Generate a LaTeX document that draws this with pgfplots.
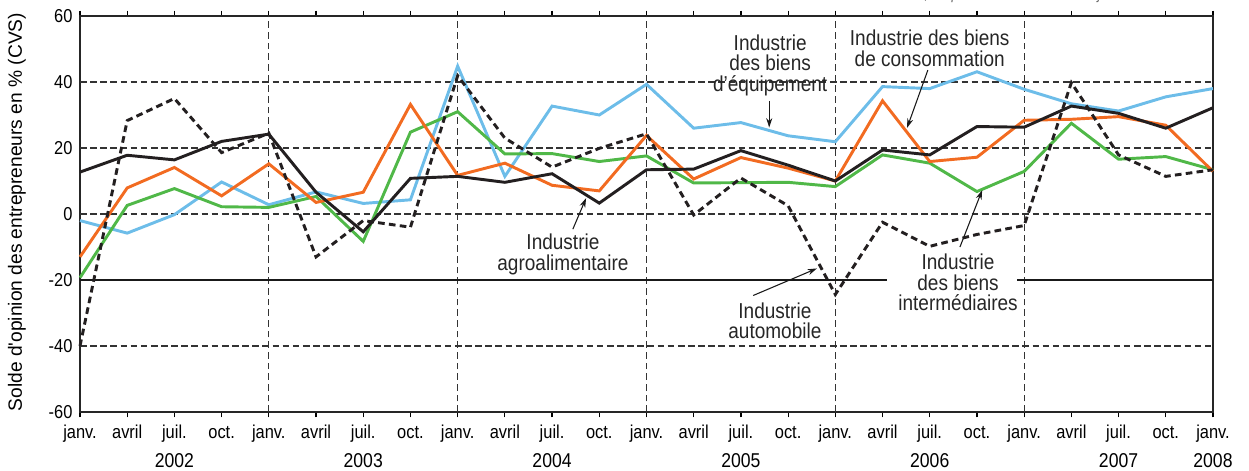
\documentclass[border=0pt]{standalone}
\usepackage{fontspec}
\setmainfont{Liberation Sans}[FakeStretch=0.88]
\newfontfamily\ylfont{Liberation Sans}
\usepackage{pgfplots}
\usepackage{pgfplotstable}
\pgfplotsset{compat=1.18}
\usetikzlibrary{arrows.meta}

\definecolor{cEquip}{HTML}{6DBDE9}
\definecolor{cConso}{HTML}{F26B21}
\definecolor{cInter}{HTML}{50B848}
\definecolor{cAgro}{HTML}{231F20}
\definecolor{cGrid}{HTML}{333333}

% quarters: 0 = janv. 2002 ... 24 = janv. 2008
\pgfplotstableread{
q  equip conso inter agro  auto
0  -2.0  -13.0 -19.3 12.7  -40.0
1  -5.8   7.9   2.6  17.8   28.3
2  -0.2  14.1   7.7  16.4   35.0
3   9.7   5.5   2.2  22.0   18.6
4   2.8  15.2   2.0  24.2   24.5
5   6.7   3.5   5.3   6.6  -13.0
6   3.2   6.6  -8.3  -5.4   -2.0
7   4.3  33.2  24.8  10.8   -4.0
8  44.8  11.7  31.0  11.4   41.9
9  11.4  15.4  18.2   9.6   23.0
10 32.7   8.7  18.3  12.2   14.2
11 30.0   7.0  15.9   3.3   19.9
12 39.3  23.8  17.6  13.4   24.3
13 26.0  10.6   9.4  13.6   -0.3
14 27.7  17.1   9.5  19.2   10.9
15 23.7  13.9   9.6  14.8    2.5
16 21.9  10.0   8.3  10.0  -24.4
17 38.6  34.3  17.9  19.4   -2.5
18 38.0  15.9  15.4  17.9   -9.8
19 43.1  17.2   6.8  26.5   -6.2
20 37.8  28.4  12.9  26.3   -3.5
21 33.4  28.7  27.5  32.7   39.8
22 31.2  29.5  16.6  30.5   17.9
23 35.5  26.9  17.4  26.0   11.4
24 38.0  12.9  13.4  32.2   13.4
}\data

\begin{document}
\begin{tikzpicture}
\begin{axis}[
  width=849.75pt, height=297pt, scale only axis,
  xmin=0, xmax=24, ymin=-60, ymax=60,
  clip=false,
  axis line style={line width=1pt, black!85},
  xtick={0,...,24},
  xticklabels={janv.,avril,juil.,oct.,janv.,avril,juil.,oct.,janv.,avril,juil.,oct.,
    janv.,avril,juil.,oct.,janv.,avril,juil.,oct.,janv.,avril,juil.,oct.,janv.},
  tick align=outside, major tick length=4pt,
  x tick style={black, line width=0.9pt},
  ytick={-60,-40,...,60},
  y tick style={draw=none},
  /pgf/number format/assume math mode=true,
  xticklabel style={font=\fontsize{14}{14}\selectfont, inner sep=0pt,
    text height=0.75em, text depth=0.2em, yshift=-8.5pt},
  yticklabel style={font=\fontsize{14}{14}\selectfont, inner sep=0pt, xshift=-1.5pt},
  ylabel={\ylfont Solde d\textquotesingle opinion des entrepreneurs en \% (CVS)},
  ylabel style={font=\fontsize{14.4}{14.4}\selectfont, at={(rel axis cs:-0.0556,0.505)}, anchor=center},
]
% page frame
\coordinate (bbSW) at (rel axis cs:-0.0706,-0.1465);
\coordinate (bbNE) at (rel axis cs:1.0318,1.0404);

% grid
\draw[cGrid, line width=0.9pt, dash pattern=on 5pt off 2.6pt]
  (axis cs:0,0) -- (axis cs:24,0)
  (axis cs:0,20) -- (axis cs:24,20)
  (axis cs:0,40) -- (axis cs:24,40)
  (axis cs:0,-40) -- (axis cs:24,-40);
\draw[cGrid, line width=0.9pt, dash pattern=on 5pt off 3pt]
  (axis cs:4,-60) -- (axis cs:4,60)
  (axis cs:8,-60) -- (axis cs:8,60)
  (axis cs:12,-60) -- (axis cs:12,60)
  (axis cs:16,-60) -- (axis cs:16,60)
  (axis cs:20,-60) -- (axis cs:20,60);
\draw[black!90, line width=1pt]
  (axis cs:0,-20) -- (axis cs:17.1,-20)
  (axis cs:19.85,-20) -- (axis cs:24,-20);

\addplot[cEquip, line width=2.2pt] table[x=q, y=equip] {\data};
\addplot[cInter, line width=2.2pt] table[x=q, y=inter] {\data};
\addplot[cConso, line width=2.2pt] table[x=q, y=conso] {\data};
\addplot[cAgro, line width=2.2pt] table[x=q, y=agro] {\data};
\addplot[cAgro, line width=2.2pt, dash pattern=on 5pt off 3.2pt] table[x=q, y=auto] {\data};

% labels
\tikzset{lab/.style={align=center, inner sep=1pt, text=black!85,
  font=\fontsize{16.2}{15.4}\selectfont},
  arr/.style={-{Stealth[length=7pt,width=4.5pt]}, line width=0.8pt, black!90},
  yr/.style={anchor=base, inner sep=0pt, font=\fontsize{15}{15}\selectfont, yshift=-41.3pt}}
\node[lab] at (axis cs:14.62,45.1) {Industrie\\des biens\\d’équipement};
\draw[arr] (axis cs:14.6,34.3) -- (axis cs:14.6,26.2);
\node[lab] at (axis cs:18.0,50.2) {Industrie des biens\\de consommation};
\draw[arr] (axis cs:17.96,43.6) -- (axis cs:17.52,26.1);
\node[lab] at (axis cs:10.23,-12.3) {Industrie\\agroalimentaire};
\draw[arr] (axis cs:10.44,-4.6) -- (axis cs:10.72,4.8);
\node[lab] at (axis cs:14.72,-32.4) {Industrie\\automobile};
\draw[arr] (axis cs:14.26,-24.7) -- (axis cs:15.61,-16.5);
\node[lab] at (axis cs:18.6,-20.8) {Industrie\\des biens\\intermédiaires};
\draw[arr] (axis cs:18.64,-10.0) -- (axis cs:19.11,7.2);

% years
\node[yr] at (axis cs:2,-60) {2002};
\node[yr] at (axis cs:6,-60) {2003};
\node[yr] at (axis cs:10,-60) {2004};
\node[yr] at (axis cs:14,-60) {2005};
\node[yr] at (axis cs:18,-60) {2006};
\node[yr] at (axis cs:22,-60) {2007};
\node[yr] at (axis cs:24,-60) {2008};

% source line, cut by the page top as in the original
\node[anchor=base east, inner sep=0pt, text=black!60,
  font=\itshape\fontsize{11.5}{11.5}\selectfont]
  at (rel axis cs:1.0238,1.0404) {Source : Insee, enquête trimestrielle de conjoncture dans l’industrie};
\end{axis}
\pgfresetboundingbox
\useasboundingbox (bbSW) rectangle (bbNE);
\end{tikzpicture}
\end{document}
